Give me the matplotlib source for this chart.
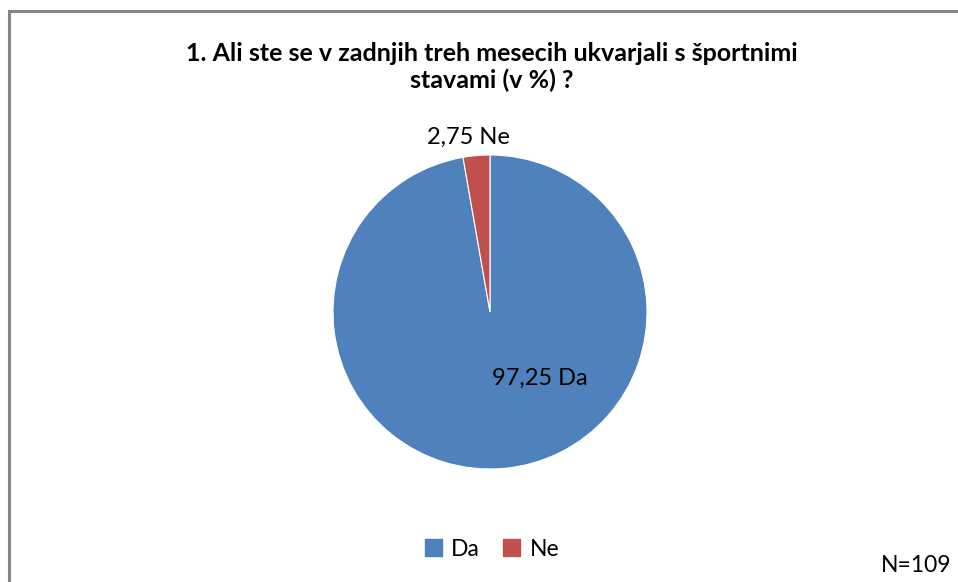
import matplotlib.pyplot as plt
from matplotlib.patches import Rectangle
import numpy as np

categories = ["Da", "Ne"]
values = [97.25, 2.75]
value_labels = ["97,25", "2,75"]
colors = ["#4F81BD", "#C0504D"]
title = "1. Ali ste se v zadnjih treh mesecih ukvarjali s športnimi\nstavami (v %) ?"
note = "N=109"

plt.rcParams['font.family'] = ['Lato', 'DejaVu Sans']

W, H = 958, 582
fig = plt.figure(figsize=(W/100, H/100), dpi=100)
fig.patch.set_facecolor('white')

# frame
fig.add_artist(Rectangle((8.5/W, -0.1), 1.2, (H-11)/H + 0.1, transform=fig.transFigure,
                         fill=False, edgecolor='#868686', linewidth=2.2))

cx, cy, r = 490, 312, 157
ax = fig.add_axes([(cx - r)/W, (H - cy - r)/H, 2*r/W, 2*r/H])
wedges, _ = ax.pie(values, colors=colors, startangle=90, counterclock=False,
                   radius=1.0, wedgeprops=dict(linewidth=0.8, edgecolor='white'))
ax.set_xlim(-1, 1); ax.set_ylim(-1, 1)
ax.set_aspect('equal')

# data labels
ax.text(0.32, -0.42, f"{value_labels[0]} {categories[0]}", fontsize=17, ha='center', va='center')
ax.text(-0.14, 1.11, f"{value_labels[1]} {categories[1]}", fontsize=17, ha='center', va='center')

fig.text(492/W, 1 - 67/H, title, fontsize=18, fontweight='bold', ha='center', va='center',
         linespacing=1.22)

# legend
handles = [Rectangle((0, 0), 1, 1, color=c) for c in colors]
fig.legend(handles, categories, loc='center', bbox_to_anchor=(492/W, 1 - 549/H), ncol=2,
           frameon=False, fontsize=16.5, handlelength=0.75, handleheight=0.75,
           handletextpad=0.4, columnspacing=1.0)

fig.text(916/W, 1 - 566/H, note, fontsize=16.5, ha='center', va='center')

fig.savefig("out.png", dpi=100)
